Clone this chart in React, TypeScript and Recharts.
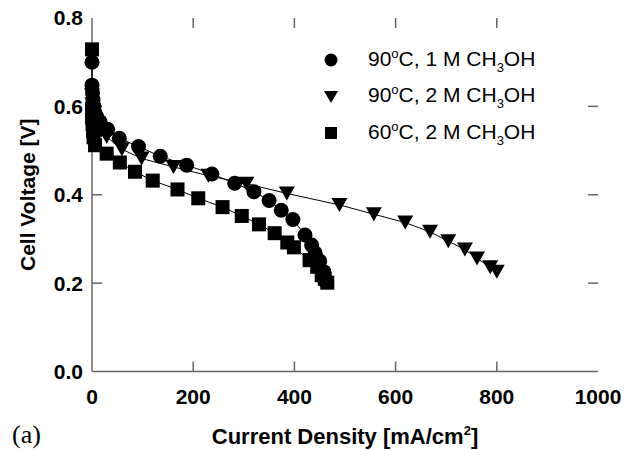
import { ScatterChart, Scatter, XAxis, YAxis, Legend, Label, ReferenceLine } from 'recharts';

// 90 C, 1 M CH3OH
const circleX = [0, 0, 1, 2, 4, 6, 10, 16, 31, 54, 92, 135, 187, 237, 282, 320, 350, 374, 397, 421, 434, 441, 450, 458, 462];
const circleY = [0.70, 0.648, 0.63, 0.615, 0.60, 0.585, 0.575, 0.565, 0.548, 0.528, 0.509, 0.487, 0.467, 0.447, 0.426, 0.407, 0.387, 0.365, 0.344, 0.309, 0.286, 0.268, 0.25, 0.226, 0.203];

// 90 C, 2 M CH3OH
const triangleX = [0, 1, 2, 4, 7, 12, 18, 29, 59, 98, 161, 230, 305, 385, 489, 557, 619, 668, 704, 737, 761, 787, 800];
const triangleY = [0.625, 0.605, 0.59, 0.575, 0.565, 0.555, 0.545, 0.531, 0.503, 0.482, 0.463, 0.443, 0.425, 0.403, 0.377, 0.356, 0.337, 0.316, 0.295, 0.276, 0.256, 0.236, 0.226];

// 60 C, 2 M CH3OH
const squareX = [0, 0, 0, 1, 2, 3, 6, 29, 55, 85, 120, 169, 210, 258, 296, 330, 361, 386, 399, 430, 445, 454, 460, 465];
const squareY = [0.729, 0.595, 0.575, 0.56, 0.545, 0.53, 0.512, 0.493, 0.473, 0.452, 0.432, 0.412, 0.392, 0.372, 0.352, 0.333, 0.313, 0.292, 0.281, 0.252, 0.237, 0.218, 0.21, 0.201];

const xTicks = [0, 200, 400, 600, 800, 1000];
const yTicks = [0, 0.2, 0.4, 0.6, 0.8];

const zip = (xs: number[], ys: number[]) => xs.map((x, i) => ({ x, y: ys[i] }));

const font = 'Liberation Sans, Arial, Helvetica, sans-serif';
const axisColor = '#666';
const tickStyle = { fontSize: 21, fontWeight: 'bold', fill: '#000', fontFamily: font };

// inward tick length, in data units (about 10px on each axis)
const X_TICK_LEN = 0.0226;
const Y_TICK_LEN = 19.8;

const Dot = ({ cx, cy, r = 7.5 }: any) => <circle cx={cx} cy={cy} r={r} fill="#000" />;
const Tri = ({ cx, cy, w = 16, h = 14 }: any) => (
  <polygon points={`${cx - w / 2},${cy - h / 2} ${cx + w / 2},${cy - h / 2} ${cx},${cy + h / 2}`} fill="#000" />
);
const Sq = ({ cx, cy, s = 14 }: any) => <rect x={cx - s / 2} y={cy - s / 2} width={s} height={s} fill="#000" />;

const legendRows = [
  { temp: '90', conc: '1', marker: <Dot cx={11} cy={11} r={6.5} /> },
  { temp: '90', conc: '2', marker: <Tri cx={11} cy={11} w={14} h={12} /> },
  { temp: '60', conc: '2', marker: <Sq cx={11} cy={11} s={12} /> },
];

const LegendBox = () => (
  <div style={{ fontFamily: font, fontSize: 21, color: '#000' }}>
    {legendRows.map((r, i) => (
      <div key={i} style={{ display: 'flex', alignItems: 'center', height: 36.5 }}>
        <svg width={22} height={22}>{r.marker}</svg>
        <span style={{ marginLeft: 26, whiteSpace: 'nowrap', lineHeight: '22px' }}>
          {r.temp}
          <span style={{ fontSize: 13, position: 'relative', top: -8 }}>o</span>
          C, {r.conc} M CH
          <span style={{ fontSize: 13, position: 'relative', top: 6 }}>3</span>
          OH
        </span>
      </div>
    ))}
  </div>
);

const XTitle = ({ viewBox }: any) => {
  const cx = viewBox.x + viewBox.width / 2;
  return (
    <text x={cx} y={viewBox.y + viewBox.height + 32} textAnchor="middle" fontFamily={font} fontSize={22} fontWeight="bold" fill="#000">
      Current Density [mA/cm<tspan fontSize={13} dy={-9}>2</tspan><tspan dy={9}>]</tspan>
    </text>
  );
};

const tickSeg = { stroke: axisColor, strokeWidth: 1.5, ifOverflow: 'visible' as const };

export default function App() {
  return (
    <div style={{ position: 'absolute', left: 0, top: 0, background: '#fff' }}>
      <ScatterChart width={637} height={450} margin={{ top: 18, right: 39, bottom: 38.5, left: 22 }}>
        <XAxis
          type="number"
          dataKey="x"
          domain={[0, 1000]}
          ticks={xTicks}
          interval={0}
          height={40}
          stroke={axisColor}
          strokeWidth={1.5}
          tickLine={false}
          tickSize={0}
          tickMargin={18}
          tick={tickStyle}
        >
          <Label content={<XTitle />} />
        </XAxis>
        <XAxis
          xAxisId="top"
          orientation="top"
          type="number"
          domain={[0, 1000]}
          ticks={xTicks}
          height={0}
          stroke={axisColor}
          strokeWidth={1.5}
          tickLine={false}
          tick={false}
        />
        <YAxis
          type="number"
          dataKey="y"
          domain={[0, 0.8]}
          ticks={yTicks}
          interval={0}
          width={70}
          stroke={axisColor}
          strokeWidth={1.5}
          tickLine={false}
          tickSize={0}
          tickMargin={9}
          tick={tickStyle}
          tickFormatter={(v: number) => v.toFixed(1)}
        >
          <Label
            value="Cell Voltage [V]"
            angle={-90}
            position="insideLeft"
            offset={6}
            style={{ textAnchor: 'middle', fontFamily: font, fontSize: 21, fontWeight: 'bold', fill: '#000' }}
          />
        </YAxis>
        <YAxis
          yAxisId="right"
          orientation="right"
          type="number"
          domain={[0, 0.8]}
          ticks={yTicks}
          width={0}
          stroke={axisColor}
          strokeWidth={1.5}
          tickLine={false}
          tick={false}
        />
        {xTicks.slice(1, -1).map((t) => (
          <ReferenceLine key={`b${t}`} segment={[{ x: t, y: 0 }, { x: t, y: X_TICK_LEN }]} {...tickSeg} />
        ))}
        {xTicks.slice(1, -1).map((t) => (
          <ReferenceLine key={`t${t}`} segment={[{ x: t, y: 0.8 }, { x: t, y: 0.8 - X_TICK_LEN }]} {...tickSeg} />
        ))}
        {yTicks.slice(1, -1).map((t) => (
          <ReferenceLine key={`l${t}`} segment={[{ x: 0, y: t }, { x: Y_TICK_LEN, y: t }]} {...tickSeg} />
        ))}
        {yTicks.slice(1, -1).map((t) => (
          <ReferenceLine key={`r${t}`} segment={[{ x: 1000, y: t }, { x: 1000 - Y_TICK_LEN, y: t }]} {...tickSeg} />
        ))}
        <Legend
          layout="horizontal"
          verticalAlign="middle"
          align="center"
          content={<LegendBox />}
          wrapperStyle={{ top: 42, left: 320, width: 260 }}
        />
        <Scatter
          name="90C, 1 M CH3OH"
          data={zip(circleX, circleY)}
          shape={<Dot />}
          line={{ stroke: '#000', strokeWidth: 1 }}
          lineType="joint"
          isAnimationActive={false}
        />
        <Scatter
          name="90C, 2 M CH3OH"
          data={zip(triangleX, triangleY)}
          shape={<Tri />}
          line={{ stroke: '#000', strokeWidth: 1 }}
          lineType="joint"
          isAnimationActive={false}
        />
        <Scatter
          name="60C, 2 M CH3OH"
          data={zip(squareX, squareY)}
          shape={<Sq />}
          line={{ stroke: '#000', strokeWidth: 1 }}
          lineType="joint"
          isAnimationActive={false}
        />
      </ScatterChart>
      <div style={{ position: 'absolute', left: 12, top: 420, fontFamily: 'Liberation Serif, Times New Roman, serif', fontSize: 26, color: '#000' }}>
        (a)
      </div>
    </div>
  );
}
